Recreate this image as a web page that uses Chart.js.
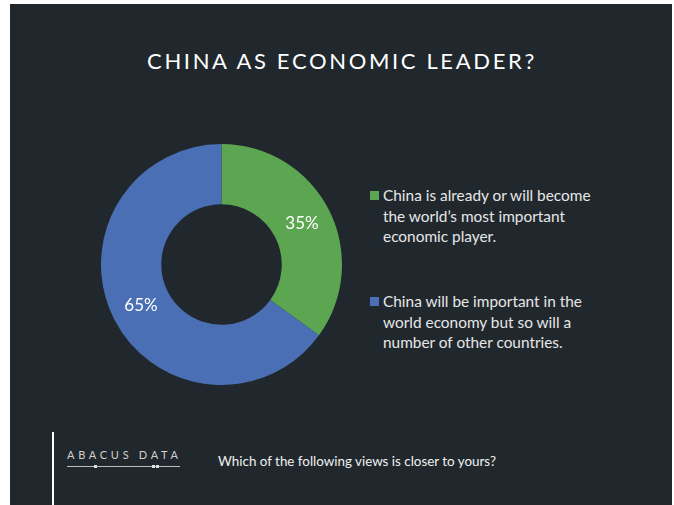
<!DOCTYPE html>
<html>
<head>
<meta charset="utf-8">
<script src="https://cdn.jsdelivr.net/npm/chart.js@4"></script>
<style>
  html, body { margin: 0; padding: 0; background: #ffffff; }
  body { width: 674px; height: 505px; position: relative; overflow: hidden; font-family: Lato, "Open Sans", sans-serif; }
  #panel { position: absolute; left: 10px; top: 4px; width: 662px; height: 501px; background: #21282d; }
  #title { position: absolute; left: 5px; width: 674px; top: 47px; text-align: center; color: #ffffff; font-size: 22px; letter-spacing: 2.65px; font-weight: 400; }
  #chartBox { position: absolute; left: 101px; top: 144px; width: 241px; height: 241px; }
  #legend { position: absolute; left: 370px; top: 0; color: #e6e6e6; font-size: 15.4px; line-height: 20.7px; }
  .item { position: absolute; left: 0; width: 280px; }
  .swatch { position: absolute; left: 0; top: 6px; width: 9px; height: 9px; }
  .text { margin-left: 13px; white-space: pre; }
  #rule { position: absolute; left: 52px; top: 432px; width: 2px; height: 73px; background: #ffffff; }
  #logo { position: absolute; left: 67px; top: 448px; color: #d0d0d0; font-size: 11px; letter-spacing: 3.7px; }
  #logoLine { position: absolute; left: 67px; top: 466px; width: 113px; height: 1px; background: #bdbdbd; }
  .dot { position: absolute; top: -1px; width: 3px; height: 3px; background: #e0e0e0; }
  #question { position: absolute; left: 218px; top: 453px; color: #f0f0f0; font-size: 13.4px; }
</style>
</head>
<body>
<div id="panel"></div>
<div id="title">CHINA AS ECONOMIC LEADER?</div>
<div id="chartBox"><canvas id="donut"></canvas></div>
<div id="legend"></div>
<div id="rule"></div>
<div id="logo">ABACUS DATA</div>
<div id="logoLine"><div class="dot" style="left:27px"></div><div class="dot" style="left:85px"></div><div class="dot" style="left:89px"></div></div>
<div id="question">Which of the following views is closer to yours?</div>

<script>
const views = [
  "China is already or will become\nthe world\u2019s most important\neconomic player.",
  "China will be important in the\nworld economy but so will a\nnumber of other countries."
];
const shares = [35, 65];
const sliceColors = ["#5ca551", "#4a6fb4"];
const legendTops = [185, 291];

// legend built from the same arrays as the chart
const legend = document.getElementById("legend");
views.forEach((label, i) => {
  const item = document.createElement("div");
  item.className = "item";
  item.style.top = legendTops[i] + "px";
  item.innerHTML = `<div class="swatch" style="background:${sliceColors[i]}"></div><div class="text"></div>`;
  item.querySelector(".text").textContent = label;
  legend.appendChild(item);
});

// writes the percentage at the middle of each slice
const sliceLabels = {
  id: "sliceLabels",
  afterDatasetsDraw(chart) {
    const ctx = chart.ctx;
    const meta = chart.getDatasetMeta(0);
    ctx.save();
    ctx.fillStyle = "#ffffff";
    ctx.font = "17px Lato, 'Open Sans', sans-serif";
    ctx.textAlign = "center";
    ctx.textBaseline = "middle";
    meta.data.forEach((arc, i) => {
      const pos = arc.tooltipPosition();
      ctx.fillText(shares[i] + "%", pos.x, pos.y);
    });
    ctx.restore();
  }
};

new Chart(document.getElementById("donut").getContext("2d"), {
  type: "doughnut",
  data: {
    labels: views,
    datasets: [{
      data: shares,
      backgroundColor: sliceColors,
      borderWidth: 0
    }]
  },
  options: {
    responsive: true,
    maintainAspectRatio: false,
    animation: false,
    cutout: "50%",
    layout: { padding: 0 },
    plugins: {
      legend: { display: false },
      tooltip: { enabled: false }
    }
  },
  plugins: [sliceLabels]
});
</script>
</body>
</html>
